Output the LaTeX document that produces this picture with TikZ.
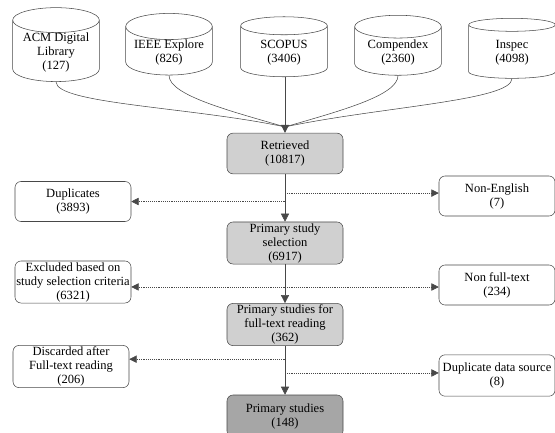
\documentclass[tikz,border=0pt]{standalone}
\usepackage{fontspec}
\setmainfont{Liberation Serif}
\usetikzlibrary{shapes.geometric,arrows.meta,positioning}
\definecolor{stepgray}{RGB}{208,208,208}
\definecolor{finalgray}{RGB}{166,166,166}
\definecolor{linegray}{RGB}{72,72,72}
\tikzset{
  source/.style={cylinder,shape border rotate=90,aspect=0.36,draw=linegray,
    minimum width=65pt,minimum height=45pt,align=center,inner xsep=1pt,inner ysep=0pt},
  stage/.style={rectangle,rounded corners=4.5pt,draw=linegray,fill=stepgray,
    minimum width=87pt,minimum height=30.5pt,align=center,inner sep=1pt},
  outbox/.style={rectangle,rounded corners=4.5pt,draw=linegray,fill=white,
    minimum width=87pt,minimum height=30pt,align=center,inner xsep=0pt,inner ysep=1pt},
  flow/.style={draw=linegray,-{Triangle[length=6pt,width=6pt]}},
  drop/.style={draw=linegray,densely dotted,-{Triangle[length=5.5pt,width=5.5pt]}}
}

\begin{document}
\begin{tikzpicture}[x=0.75pt,y=-0.75pt,font=\fontsize{9.4}{10.5}\selectfont]
  \useasboundingbox (0,0) rectangle (555,432);
  % databases
  \node[source] (acm) at (56,52.5) {ACM Digital\\Library\\(127)};
  \node[source] (ieee) at (169,52.5) {IEEE Explore\\(826)};
  \node[source] (scopus) at (284,52.5) {SCOPUS\\(3406)};
  \node[source] (compendex) at (398,52.5) {Compendex\\(2360)};
  \node[source] (inspec) at (512,52.5) {Inspec\\(4098)};
  % main flow
  \node[stage] (retrieved) at (285,153.5) {Retrieved\\(10817)};
  \node[stage] (selection) at (285,243) {Primary study\\selection\\(6917)};
  \node[stage] (fulltext) at (285,324.5) {Primary studies for\\full-text reading\\(362)};
  \node[stage,fill=finalgray,minimum height=31.5pt] (primary) at (285,416) {Primary studies\\(148)};
  % removed
  \node[outbox] (dup) at (73,201.5) {Duplicates\\(3893)};
  \node[outbox] (noneng) at (497,196) {Non-English\\(7)};
  \node[outbox] (excluded) at (73,282) {Excluded based on\\study selection criteria\\(6321)};
  \node[outbox] (nonfull) at (497,285) {Non full-text\\(234)};
  \node[outbox,minimum height=31pt] (discarded) at (71,366.5) {Discarded after\\Full-text reading\\(206)};
  \node[outbox,minimum height=31pt] (dupsource) at (497,375.5) {Duplicate data source\\(8)};
  % where the lines meet
  \coordinate (merge) at ([yshift=4.5pt]retrieved.north);
  \coordinate (noneng in) at ([yshift=2.2pt]noneng.west);
  \coordinate (excluded in) at ([yshift=-3.7pt]excluded.east);
  \coordinate (nonfull in) at ([yshift=-1.5pt]nonfull.west);
  \coordinate (discarded in) at ([yshift=5.5pt]discarded.east);
  \coordinate (dupsource in) at ([yshift=1.9pt]dupsource.west);

  \draw[linegray] (acm.bottom) .. controls +(0,22) and +(-95,-20) .. (merge);
  \draw[linegray] (ieee.bottom) .. controls +(0,20) and +(-55,-16) .. (merge);
  \draw[linegray] (compendex.bottom) .. controls +(0,20) and +(55,-16) .. (merge);
  \draw[linegray] (inspec.bottom) .. controls +(0,22) and +(95,-20) .. (merge);
  \draw[flow] (scopus.bottom -| retrieved.north) -- (retrieved.north);

  \draw[flow] (retrieved) -- (selection);
  \draw[flow] (selection) -- (fulltext);
  \draw[flow] (fulltext) -- (primary);

  \draw[drop] (retrieved.south |- dup.east) -- (dup.east);
  \draw[drop] (retrieved.south |- noneng in) -- (noneng in);
  \draw[drop] (selection.south |- excluded in) -- (excluded in);
  \draw[drop] (selection.south |- nonfull in) -- (nonfull in);
  \draw[drop] (fulltext.south |- discarded in) -- (discarded in);
  \draw[drop] (fulltext.south |- dupsource in) -- (dupsource in);
\end{tikzpicture}
\end{document}
